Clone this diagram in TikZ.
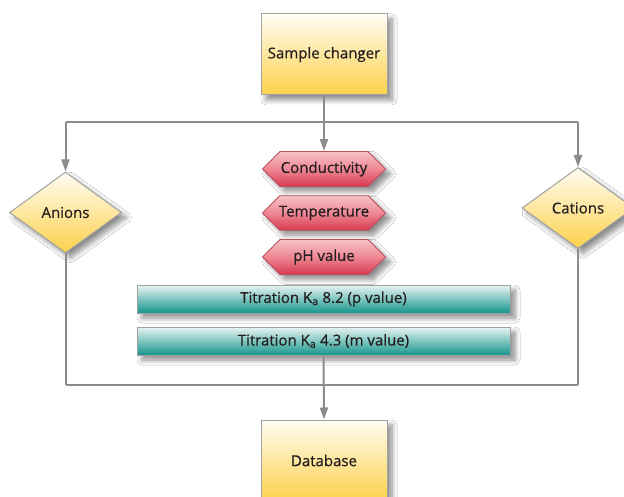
\documentclass[tikz,border=0pt]{standalone}
\usepackage{fontspec}
\setmainfont{Open Sans}[FakeBold=0.6]
\usetikzlibrary{shapes.geometric,shapes.misc,arrows.meta,shadows.blur}
\definecolor{linegray}{HTML}{8C8C8C}
\definecolor{bordergray}{HTML}{A0A0A0}
\definecolor{ytop}{HTML}{FFFDF3}
\definecolor{ybot}{HTML}{FDD14A}
\definecolor{rtop}{HTML}{F7C3C8}
\definecolor{rmid}{HTML}{EE8794}
\definecolor{rbot}{HTML}{D63A4D}
\definecolor{ttop}{HTML}{E8F4F3}
\definecolor{tbot}{HTML}{15968C}
\definecolor{txt}{HTML}{231F20}
\tikzset{
  shad/.style={blur shadow={shadow xshift=5pt, shadow yshift=-5pt, shadow blur steps=8, shadow blur radius=5pt, shadow opacity=45}},
  ybox/.style={rectangle, draw=bordergray, line width=1pt, top color=ytop, bottom color=ybot, shad, text=txt, minimum width=126pt, minimum height=81pt, inner sep=0pt},
  ydiam/.style={diamond, draw=bordergray, line width=1pt, top color=ytop, bottom color=ybot, shad, text=txt, minimum width=112pt, minimum height=81pt, inner sep=0pt},
  redoct/.style={chamfered rectangle, chamfered rectangle sep=10pt, draw=rbot!70!gray, line width=0.8pt, top color=rtop, bottom color=rbot, middle color=rmid, shad, text=txt, minimum width=123pt, minimum height=31pt, inner sep=0pt},
  tealbar/.style={rectangle, draw=bordergray, line width=1pt, top color=ttop, bottom color=tbot, shad, text=txt, minimum width=373pt, minimum height=28pt, inner sep=0pt},
  conn/.style={draw=linegray, line width=2pt},
  arr/.style={conn, -{Triangle[length=12pt,width=8pt]}},
}
\begin{document}
\begin{tikzpicture}[x=1pt,y=-1pt, font=\fontsize{15}{18}\selectfont]
\useasboundingbox (0,0) rectangle (624,497);
\clip (0,0) rectangle (624,497);
\fill[white] (0,0) rectangle (624,497);

\coordinate (top) at (324,122);
\coordinate (tl) at (65.5,122);
\coordinate (tr) at (578,122);
\coordinate (bl) at (65.5,385);
\coordinate (br) at (578,385);

\draw[conn] (tl) -- (tr);
\draw[conn] (bl) -- (br);

\node[ybox] (sc) at (324,54.5) {Sample changer};
\node[ybox] (db) at (324,460.5) {Database};
\node[ydiam] (an) at (65.5,212.5) {Anions};
\node[ydiam] (cat) at (578,208) {Cations};
\node[redoct] (cond) at (324,169) {Conductivity};
\node[redoct] (temp) at (324,213) {Temperature};
\node[redoct] (ph) at (324,257) {pH value};
\node[tealbar] (t1) at (323.5,299) {Titration K\textsubscript{a} 8.2 (p value)};
\node[tealbar] (t2) at (323.5,341) {Titration K\textsubscript{a} 4.3 (m value)};

\draw[conn] (sc.south) -- (top);
\draw[arr] (top) -- (cond.north);
\draw[arr] (tl) -- (an.north);
\draw[arr] (tr) -- (cat.north);
\draw[conn] (an.south) -- (bl);
\draw[conn] (cat.south) -- (br);
\draw[arr] (t2.south) -- (db.north);
\end{tikzpicture}
\end{document}
